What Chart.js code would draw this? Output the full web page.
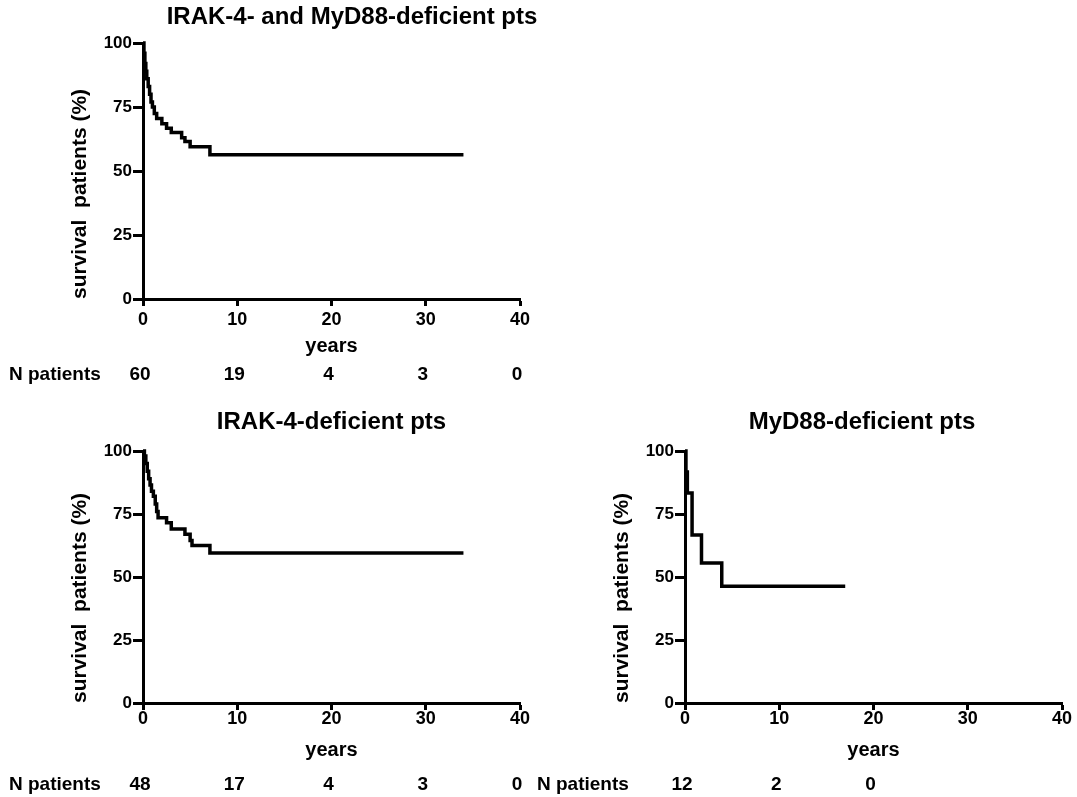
<!DOCTYPE html>
<html>
<head>
<meta charset="utf-8">
<script src="https://cdn.jsdelivr.net/npm/chart.js@4/dist/chart.umd.min.js"></script>
<style>
  html, body { margin: 0; background: #fff; overflow: hidden; }
  body { width: 1077px; height: 797px; position: relative; }
  canvas { position: absolute; }
</style>
</head>
<body>
<canvas id="all_pts" style="left:0px;top:0px;" width="704" height="400"></canvas>
<canvas id="irak4_pts" style="left:0px;top:400px;" width="540" height="397"></canvas>
<canvas id="myd88_pts" style="left:530px;top:400px;" width="664" height="397"></canvas>
<script>
// Kaplan-Meier curves (years, % survival)
const years_all = [0, 0.1, 0.2, 0.3, 0.4, 0.55, 0.7, 0.85, 1.0, 1.2, 1.45, 2.0, 2.5, 3.0, 4.1, 4.45, 5.0, 7.1, 34];
const surv_all = [100, 96, 92, 89, 86, 83, 80, 77, 75, 72.5, 70.5, 68.5, 66.7, 65, 63, 61.5, 59.5, 56.3, 56.3];

const years_irak4 = [0, 0.15, 0.3, 0.45, 0.6, 0.75, 0.9, 1.1, 1.3, 1.45, 1.6, 2.5, 3.0, 4.45, 5.0, 5.2, 7.1, 34];
const surv_irak4 = [100, 98, 95, 92, 89, 86.5, 84, 82, 79, 76, 73.5, 71.5, 69, 67, 64.5, 62.5, 59.5, 59.5];

const years_myd88 = [0, 0.1, 0.25, 0.75, 1.75, 3.9, 17];
const surv_myd88 = [100, 91.7, 83.3, 66.7, 55.6, 46.3, 46.3];

// numbers at risk under the x axis
const risk_years = [0, 10, 20, 30, 40];
const risk_all = [60, 19, 4, 3, 0];
const risk_irak4 = [48, 17, 4, 3, 0];
const risk_myd88 = [12, 2, 0];

const FONT = '"Liberation Sans", Arial, Helvetica, sans-serif';

const atRiskPlugin = {
    id: 'atRisk',
    afterDraw(chart, args, opts) {
        const ctx = chart.ctx;
        const xs = chart.scales.x;
        ctx.save();
        ctx.font = 'bold 19px ' + FONT;
        ctx.fillStyle = '#000';
        ctx.textBaseline = 'middle';
        ctx.textAlign = 'left';
        ctx.fillText('N patients', opts.labelX, opts.y);
        ctx.textAlign = 'center';
        for (let i = 0; i < opts.counts.length; i++) {
            ctx.fillText(String(opts.counts[i]), xs.getPixelForValue(risk_years[i]) - 3, opts.y);
        }
        ctx.restore();
    }
};

function make_chart(id, title, years, surv, cfg) {
    const ctx = document.getElementById(id).getContext('2d');
    const pts = years.map((t, i) => ({ x: t, y: surv[i] }));
    return new Chart(ctx, {
        type: 'line',
        data: {
            datasets: [{
                data: pts,
                stepped: true,
                borderColor: '#000',
                borderWidth: 3.5,
                pointRadius: 0,
                fill: false,
                clip: false
            }]
        },
        options: {
            responsive: false,
            animation: false,
            events: [],
            layout: { padding: { left: 0, right: cfg.padRight, top: 0, bottom: 0 } },
            plugins: {
                legend: { display: false },
                tooltip: { enabled: false },
                title: {
                    display: true,
                    text: title,
                    color: '#000',
                    fullSize: cfg.titleFull,
                    font: { family: FONT, size: 24, weight: 'bold', lineHeight: 1.2 },
                    padding: { top: cfg.titleTop, bottom: cfg.titleBottom }
                },
                atRisk: { counts: cfg.counts, labelX: cfg.riskX, y: cfg.riskY }
            },
            scales: {
                x: {
                    type: 'linear',
                    min: 0, max: 40,
                    afterFit: s => { s.height = cfg.xHeight; },
                    border: { display: true, color: '#000', width: 3 },
                    grid: { drawOnChartArea: false, drawTicks: true, tickLength: 7, tickWidth: 3, tickColor: '#000', color: '#000' },
                    ticks: { stepSize: 10, color: '#000', padding: cfg.xTickPad, maxRotation: 0,
                             font: { family: FONT, size: 18, weight: 'bold' } },
                    title: { display: true, text: 'years', color: '#000',
                             font: { family: FONT, size: 20, weight: 'bold', lineHeight: 1.2 },
                             padding: { top: 0, bottom: cfg.xTitlePad } }
                },
                y: {
                    min: 0, max: 100,
                    afterFit: s => { s.width = cfg.yWidth; },
                    border: { display: true, color: '#000', width: 3 },
                    grid: { drawOnChartArea: false, drawTicks: true, tickLength: 10, tickWidth: 3, tickColor: '#000', color: '#000' },
                    ticks: { stepSize: 25, color: '#000', padding: 1,
                             font: { family: FONT, size: 17, weight: 'bold' } },
                    title: { display: true, text: 'survival  patients (%)', color: '#000', align: 'start',
                             font: { family: FONT, size: 21, weight: 'bold', lineHeight: 1.2 },
                             padding: { top: cfg.yTitlePad, bottom: 0 } }
                },
                // empty spacer on the right so the full-width title sits where the original has it
                gap: {
                    type: 'linear',
                    position: 'right',
                    display: cfg.rightGap > 0,
                    afterFit: s => { s.width = cfg.rightGap; },
                    border: { display: false },
                    grid: { display: false },
                    ticks: { display: false }
                }
            }
        },
        plugins: [atRiskPlugin]
    });
}

make_chart('all_pts', 'IRAK-4- and MyD88-deficient pts', years_all, surv_all, {
    padRight: 0, rightGap: 184, titleFull: true, titleTop: 3, titleBottom: 11.2, xHeight: 101, yWidth: 143,
    xTickPad: 3, xTitlePad: 42, yTitlePad: 68, counts: risk_all, riskX: 9, riskY: 375
});

make_chart('irak4_pts', 'IRAK-4-deficient pts', years_irak4, surv_irak4, {
    padRight: 20, rightGap: 0, titleFull: false, titleTop: 7.6, titleBottom: 14.6, xHeight: 94, yWidth: 143,
    xTickPad: -2, xTitlePad: 35, yTitlePad: 68, counts: risk_irak4, riskX: 9, riskY: 385
});

make_chart('myd88_pts', 'MyD88-deficient pts', years_myd88, surv_myd88, {
    padRight: 0, rightGap: 132, titleFull: true, titleTop: 7.6, titleBottom: 14.6, xHeight: 94, yWidth: 155,
    xTickPad: -2, xTitlePad: 35, yTitlePad: 80, counts: risk_myd88, riskX: 7, riskY: 385
});
</script>
</body>
</html>
